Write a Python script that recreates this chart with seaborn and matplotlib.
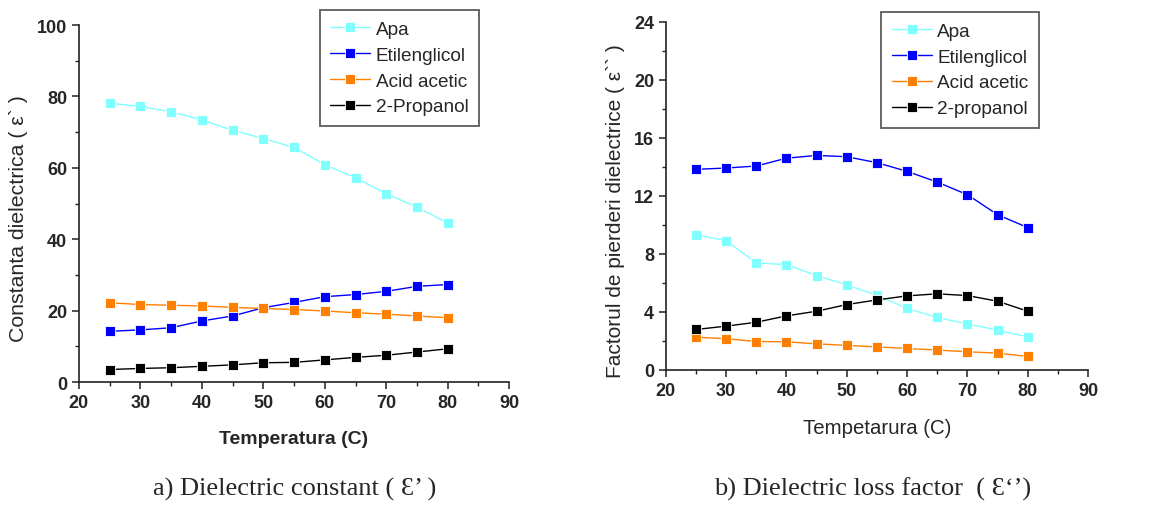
import numpy as np
import pandas as pd
import matplotlib
matplotlib.use("Agg")
import matplotlib.pyplot as plt
from matplotlib.ticker import MultipleLocator
import seaborn as sns

# Temperature points (C)
temps = [25, 30, 35, 40, 45, 50, 55, 60, 65, 70, 75, 80]

# Dielectric constant (epsilon')
const_apa = [78.1, 77.2, 75.7, 73.4, 70.5, 68.2, 65.7, 60.9, 57.2, 52.7, 49.0, 44.5]
const_etilenglicol = [14.2, 14.6, 15.2, 17.1, 18.5, 20.8, 22.3, 23.9, 24.5, 25.4, 26.8, 27.3]
const_acid_acetic = [22.2, 21.7, 21.5, 21.3, 20.9, 20.6, 20.3, 19.9, 19.4, 19.0, 18.5, 18.0]
const_propanol = [3.5, 3.8, 4.0, 4.4, 4.8, 5.4, 5.5, 6.2, 6.9, 7.5, 8.4, 9.3]

# Dielectric loss factor (epsilon'')
loss_apa = [9.32, 8.91, 7.37, 7.26, 6.50, 5.86, 5.14, 4.23, 3.61, 3.17, 2.73, 2.27]
loss_etilenglicol = [13.83, 13.92, 14.06, 14.60, 14.79, 14.70, 14.29, 13.69, 12.95, 12.08, 10.70, 9.81]
loss_acid_acetic = [2.25, 2.14, 1.95, 1.93, 1.79, 1.68, 1.58, 1.47, 1.36, 1.24, 1.15, 0.92]
loss_propanol = [2.78, 3.01, 3.28, 3.72, 4.04, 4.50, 4.82, 5.10, 5.24, 5.12, 4.73, 4.04]

names_left = ["Apa", "Etilenglicol", "Acid acetic", "2-Propanol"]
names_right = ["Apa", "Etilenglicol", "Acid acetic", "2-propanol"]
colors = ["#80FFFF", "#0000FF", "#FF8000", "#000000"]

sns.set_theme(style="ticks")
plt.rcParams["font.family"] = ["Liberation Sans", "DejaVu Sans"]


def long_frame(names, series):
    rows = []
    for name, vals in zip(names, series):
        for t, v in zip(temps, vals):
            rows.append({"T": t, "val": v, "series": name})
    return pd.DataFrame(rows)


df_left = long_frame(names_left, [const_apa, const_etilenglicol, const_acid_acetic, const_propanol])
df_right = long_frame(names_right, [loss_apa, loss_etilenglicol, loss_acid_acetic, loss_propanol])

fig = plt.figure(figsize=(11.6, 5.1), dpi=100)
ax1 = fig.add_axes([0.068, 0.249, 0.371, 0.700])
ax2 = fig.add_axes([0.574, 0.273, 0.364, 0.682])


def draw(ax, df, names, ylim, ymajor, yminor, ylabel, ylabel_size, ylabel_coords,
         xlabel, xlabel_weight, xlabel_size, legend_anchor):
    sns.lineplot(data=df, x="T", y="val", hue="series", hue_order=names,
                 palette=dict(zip(names, colors)), marker="s", markersize=6.5,
                 markeredgecolor="white", markeredgewidth=0.6, linewidth=1.0,
                 ax=ax, legend=True)
    ax.set_xlim(20, 90)
    ax.set_ylim(*ylim)
    ax.xaxis.set_major_locator(MultipleLocator(10))
    ax.xaxis.set_minor_locator(MultipleLocator(5))
    ax.yaxis.set_major_locator(MultipleLocator(ymajor))
    ax.yaxis.set_minor_locator(MultipleLocator(yminor))
    for side in ("top", "right"):
        ax.spines[side].set_visible(False)
    for side in ("left", "bottom"):
        ax.spines[side].set_linewidth(1.2)
        ax.spines[side].set_color("#222222")
    ax.tick_params(which="major", direction="out", length=5, width=1.1, labelsize=13, color="#222222")
    ax.tick_params(which="minor", direction="out", length=3, width=1.0, color="#222222")
    for lab in ax.get_xticklabels() + ax.get_yticklabels():
        lab.set_fontweight("bold")
    ax.set_xlabel(xlabel, fontsize=xlabel_size, fontweight=xlabel_weight, labelpad=14)
    ax.set_ylabel(ylabel, fontsize=ylabel_size)
    ax.yaxis.set_label_coords(*ylabel_coords)
    leg = ax.legend(loc="upper right", bbox_to_anchor=legend_anchor, borderaxespad=0,
                    fontsize=13.7, frameon=True, fancybox=False, shadow=False,
                    handlelength=2.1, handletextpad=0.3, borderpad=0.55, labelspacing=0.45)
    leg.get_frame().set_edgecolor("#333333")
    leg.get_frame().set_linewidth(1.3)


draw(ax1, df_left, names_left, (0, 100), 20, 10,
     "Constanta dielectrica ( ε` )", 15.3, (-0.119, 0.46),
     "Temperatura (C)", "bold", 14, (0.930, 1.042))
draw(ax2, df_right, names_right, (0, 24), 4, 2,
     "Factorul de pierderi dielectrice ( ε`` )", 15.0, (-0.097, 0.46),
     "Tempetarura (C)", "normal", 14.7, (0.884, 1.029))

fig.text(0.254, 0.04, "a) Dielectric constant ( Ɛ’ )", ha="center", va="center",
         fontsize=19, family=["Liberation Serif", "DejaVu Serif"])
fig.text(0.752, 0.04, "b) Dielectric loss factor  ( Ɛ‘’)", ha="center", va="center",
         fontsize=19, family=["Liberation Serif", "DejaVu Serif"])

fig.savefig("out.png", dpi=100)
